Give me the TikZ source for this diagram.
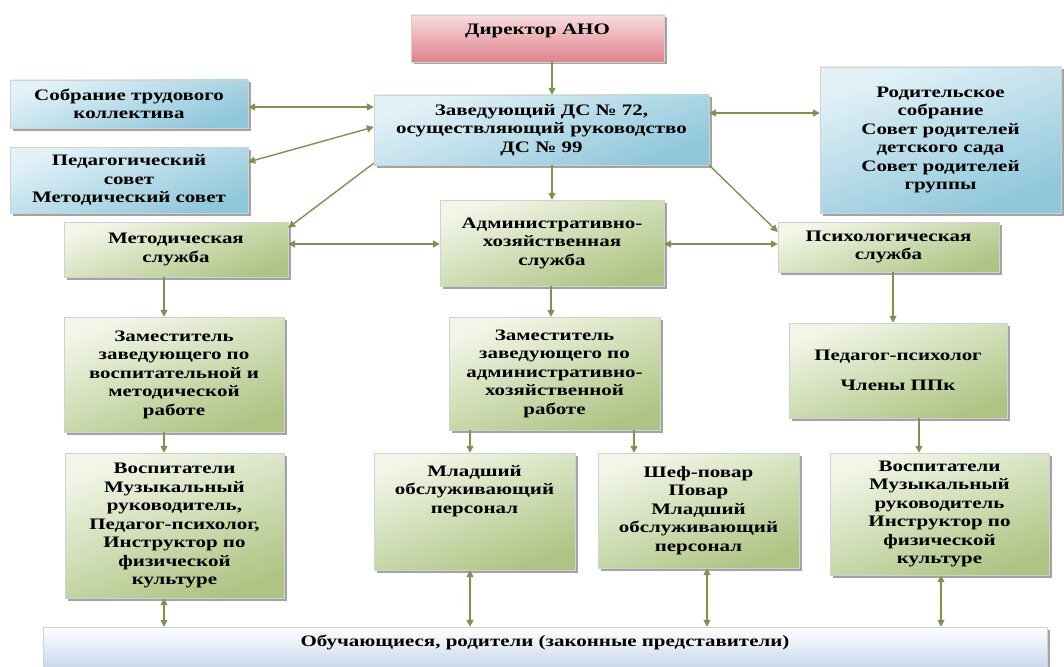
\documentclass[tikz,border=0pt]{standalone}
\usepackage{fontspec}
\setmainfont{Liberation Serif}[FakeStretch=1.31]
\usetikzlibrary{arrows.meta,shadows}
\definecolor{arr}{RGB}{122,148,82}
\definecolor{gL}{RGB}{242,246,232}
\definecolor{gD}{RGB}{174,196,132}
\definecolor{bL}{RGB}{228,242,248}
\definecolor{bD}{RGB}{142,198,218}
\definecolor{pL}{RGB}{248,220,222}
\definecolor{pD}{RGB}{222,130,140}
\definecolor{oL}{RGB}{255,255,255}
\definecolor{oD}{RGB}{184,204,230}
\begin{document}
\begin{tikzpicture}[x=1pt,y=-1pt,
  txt/.style={inner sep=0pt, align=center, font=\bfseries\fontsize{16}{18.5}\selectfont},
  bx/.style={rectangle, txt, draw=black!18, line width=0.4pt,
    drop shadow={shadow xshift=2.5pt, shadow yshift=-2.5pt, fill=black!45, opacity=0.8}},
  gbox/.style={bx, top color=gL, bottom color=gD, shading angle=20},
  bbox/.style={bx, top color=bL, bottom color=bD, shading angle=20},
  pbox/.style={bx, top color=pL, bottom color=pD},
  obox/.style={bx, top color=oL, bottom color=oD},
  ar/.style={draw=arr, line width=1.4pt, -{Triangle[length=7pt,width=7pt]}},
  dar/.style={draw=arr, line width=1.4pt, {Triangle[length=7pt,width=7pt]}-{Triangle[length=7pt,width=7pt]}}]
\useasboundingbox (0,0) rectangle (1064,666);
\fill[white] (0,0) rectangle (1064,666);
\clip (0,0) rectangle (1064,666);

% nodes
\node[pbox, minimum width=253pt, minimum height=47pt] (dir) at (537.5,38.5) {};
\node[txt, anchor=north] (dirt) at ([yshift=-9pt]dir.north) {Директор АНО};
\node[bbox, minimum width=335pt, minimum height=70pt] (zav) at (541.5,130) {Заведующий ДС № 72,\\осуществляющий руководство\\ДС № 99};
\node[bbox, minimum width=238pt, minimum height=48pt] (sob) at (129,104) {Собрание трудового\\коллектива};
\node[bbox, minimum width=238pt, minimum height=66pt] (ped) at (129,180) {Педагогический\\совет\\Методический совет};
\node[bbox, minimum width=241pt, minimum height=146pt] (rod) at (940.5,140) {Родительское\\собрание\\Совет родителей\\детского сада\\Совет родителей\\группы};
\node[gbox, minimum width=224pt, minimum height=55pt] (met) at (176,249.5) {Методическая\\служба};
\node[gbox, minimum width=224pt, minimum height=86pt] (adm) at (552,243) {Административно-\\хозяйственная\\служба};
\node[gbox, minimum width=221pt, minimum height=50pt] (psy) at (888.5,247) {Психологическая\\служба};
\node[gbox, minimum width=220pt, minimum height=115pt] (zm) at (174,374.5) {Заместитель\\заведующего по\\воспитательной и\\методической\\работе};
\node[gbox, minimum width=211pt, minimum height=113pt] (za) at (554.5,373.5) {Заместитель\\заведующего по\\административно-\\хозяйственной\\работе};
\node[gbox, minimum width=218pt, minimum height=95pt] (pp) at (898,370.5) {Педагог-психолог\\[11pt]Члены ППк};
\node[gbox, minimum width=219pt, minimum height=145pt] (vl) at (174.5,525.5) {Воспитатели\\Музыкальный\\руководитель,\\Педагог-психолог,\\Инструктор по\\физической\\культуре};
\node[gbox, minimum width=201pt, minimum height=117pt] (ml) at (474.5,511.5) {};
\node[txt, anchor=north] (mlt) at ([yshift=-12pt]ml.north) {Младший\\обслуживающий\\персонал};
\node[gbox, minimum width=201pt, minimum height=115pt] (sh) at (698.5,510.5) {Шеф-повар\\Повар\\Младший\\обслуживающий\\персонал};
\node[gbox, minimum width=219pt, minimum height=122pt] (vr) at (939.5,514) {Воспитатели\\Музыкальный\\руководитель\\Инструктор по\\физической\\культуре};
\node[obox, minimum width=1004pt, minimum height=53pt] (ob) at (545,653.5) {};
\node[txt, anchor=north] (obt) at ([yshift=-8pt]ob.north) {Обучающиеся, родители (законные представители)};

% connectors
\draw[ar] ([xshift=14.5pt]dir.south) -- ([xshift=10.5pt]zav.north);
\draw[ar] ([xshift=10.5pt]zav.south) -- (adm.north);
\draw[dar] ([yshift=-3pt]sob.east) -- ([yshift=23pt]zav.west);
\draw[dar] ([yshift=18pt]ped.east) -- ([yshift=3pt]zav.west);
\draw[ar] ([yshift=2pt]zav.south west) -- ([yshift=-6pt]met.north east);
\draw[dar] ([yshift=17pt]zav.east) -- ([yshift=27pt]rod.west);
\draw[ar] (zav.south east) -- ([yshift=15pt]psy.west);
\draw[dar] ([yshift=5.5pt]met.east) -- ([yshift=-1pt]adm.west);
\draw[dar] ([yshift=-1pt]adm.east) -- ([yshift=3pt]psy.west);
\draw[ar] ([xshift=-12pt]met.south) -- ([xshift=-10pt]zm.north);
\draw[ar] ([xshift=-1pt]adm.south) -- ([xshift=-3.5pt]za.north);
\draw[ar] ([xshift=4.5pt]psy.south) -- ([xshift=-5pt]pp.north);
\draw[ar] ([xshift=-10pt]zm.south) -- ([xshift=-10.5pt]vl.north);
\draw[ar] ([xshift=-84.5pt]za.south) -- ([xshift=-4.5pt]ml.north);
\draw[ar] ([xshift=79.5pt]za.south) -- ([xshift=-64.5pt]sh.north);
\draw[ar] ([xshift=21pt]pp.south) -- ([xshift=-20.5pt]vr.north);
\draw[dar] ([xshift=-10.5pt]vl.south) -- ([xshift=-381pt]ob.north);
\draw[dar] ([xshift=-4.5pt]ml.south) -- ([xshift=-75pt]ob.north);
\draw[dar] ([xshift=8.5pt]sh.south) -- ([xshift=162pt]ob.north);
\draw[dar] ([xshift=1.5pt]vr.south) -- ([xshift=396pt]ob.north);
\end{tikzpicture}
\end{document}
